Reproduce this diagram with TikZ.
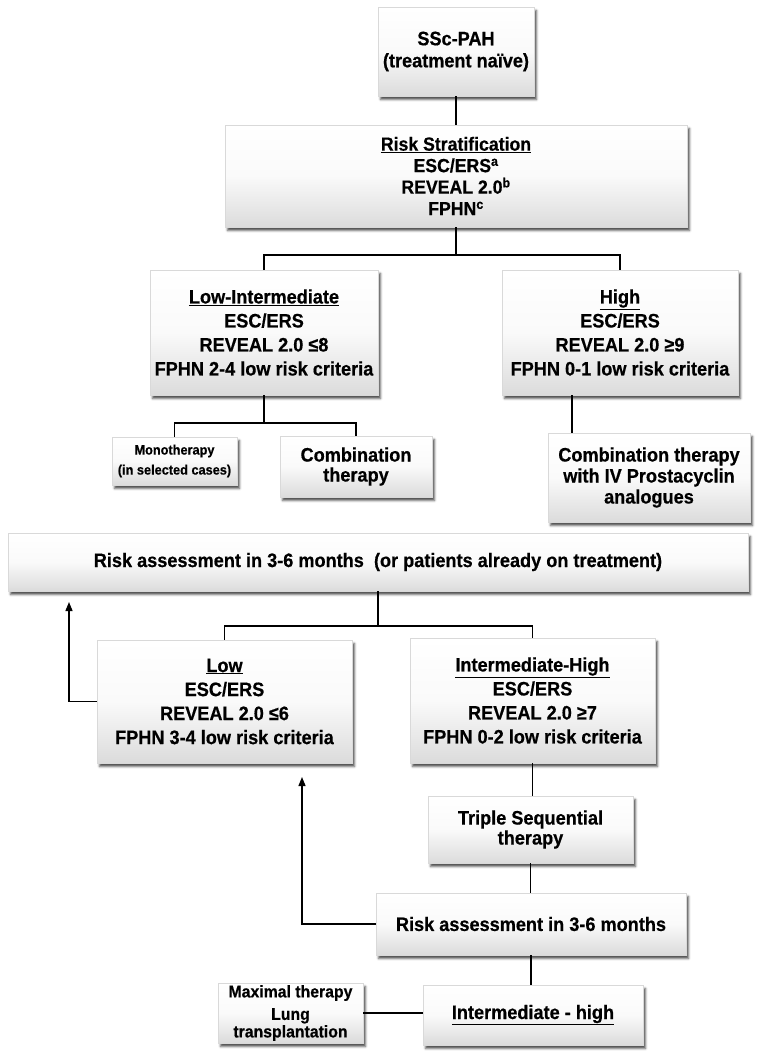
\documentclass[tikz,border=0pt]{standalone}
\usepackage{fontspec}
\setmainfont{Liberation Sans}[FakeStretch=0.93, BoldFeatures={FakeBold=0.5}]
\usetikzlibrary{shadows.blur,arrows.meta}
\begin{document}
\begin{tikzpicture}[x=1pt,y=-1pt,
  box/.style={draw=gray!30, line width=0.4pt, top color=white, bottom color=gray!28, middle color=white!96!gray,
    align=center, inner sep=0pt, font=\bfseries\fontsize{19.5}{24}\selectfont,
    blur shadow={shadow xshift=2.5pt, shadow yshift=-3.5pt, shadow blur radius=2.2pt, shadow opacity=70}},
  conn/.style={line width=1.3pt},
  arr/.style={conn, -{Triangle[length=9pt,width=7pt]}}]
\useasboundingbox (0,0) rectangle (765,1063);

\node[box, minimum width=156pt, minimum height=89pt, font=\bfseries\fontsize{19.5}{22}\selectfont] (ssc) at (456,51.5) {SSc-PAH\\(treatment naïve)};
\node[box, minimum width=462pt, minimum height=102pt, font=\bfseries\fontsize{19}{21.5}\selectfont] (strat) at (456,176) {\underline{Risk Stratification}\\ESC/ERS\textsuperscript{a}\\REVEAL 2.0\textsuperscript{b}\\FPHN\textsuperscript{c}};
\node[box, minimum width=228pt, minimum height=125pt] (lowint) at (264,332.5) {\underline{Low-Intermediate}\\ESC/ERS\\REVEAL 2.0 ≤8\\FPHN 2-4 low risk criteria};
\node[box, minimum width=236pt, minimum height=125pt] (high) at (620,332.5) {\underline{High}\\ESC/ERS\\REVEAL 2.0 ≥9\\FPHN 0-1 low risk criteria};
\node[box, minimum width=125pt, minimum height=48pt, font=\bfseries\fontsize{13.7}{20}\selectfont] (mono) at (174.5,461) {Monotherapy\\(in selected cases)};
\node[box, minimum width=152pt, minimum height=61pt, font=\bfseries\fontsize{19.5}{20}\selectfont] (comb) at (356,466.5) {Combination\\therapy};
\node[box, minimum width=202pt, minimum height=89pt, font=\bfseries\fontsize{19.5}{21}\selectfont] (combiv) at (649,477.5) {Combination therapy\\with IV Prostacyclin\\analogues};
\node[box, minimum width=740pt, minimum height=58pt] (ra1) at (378,562) {Risk assessment in 3-6 months\ \ (or patients already on treatment)};
\node[box, minimum width=255pt, minimum height=123pt] (low) at (224.5,701.5) {\underline{Low}\\ESC/ERS\\REVEAL 2.0 ≤6\\FPHN 3-4 low risk criteria};
\node[box, minimum width=245pt, minimum height=125pt] (inth) at (532.5,700.5) {\underline{Intermediate-High}\\ESC/ERS\\REVEAL 2.0 ≥7\\FPHN 0-2 low risk criteria};
\node[box, minimum width=205pt, minimum height=67pt, font=\bfseries\fontsize{19.5}{20}\selectfont] (triple) at (530.5,829.5) {Triple Sequential\\therapy};
\node[box, minimum width=310pt, minimum height=62pt] (ra2) at (531,924) {Risk assessment in 3-6 months};
\node[box, minimum width=220pt, minimum height=60pt] (ih) at (533,1015) {\underline{Intermediate - high}};
\node[box, minimum width=145pt, minimum height=60pt, font=\bfseries\fontsize{17}{17.5}\selectfont] (maxt) at (290.5,1013) {Maximal therapy\\[5pt]Lung\\transplantation};

\coordinate (j1) at (456,255);
\coordinate (j2) at (264,423);
\coordinate (j3) at (378,626);
\coordinate (hx) at (572,0);
\coordinate (a1) at (69,602);
\coordinate (a2) at (302,777);

\draw[conn] (ssc.south) -- (strat.north);
\draw[conn] (strat.south) -- (j1);
\draw[conn] (lowint.north) |- (j1) -| (high.north);
\draw[conn] (lowint.south) -- (j2);
\draw[conn] (mono.north) |- (j2) -| (comb.north);
\draw[line width=2.4pt] (hx |- high.south) -- (hx |- combiv.north);
\draw[conn] (ra1.south) -- (j3);
\draw[conn] (low.north) |- (j3) -| (inth.north);
\draw[arr] (low.west) -| (a1);
\draw[conn] (inth.south) -- (inth.south |- triple.north);
\draw[conn] (triple.south) -- (triple.south |- ra2.north);
\draw[conn] (ra2.south) -- (ra2.south |- ih.north);
\draw[arr] (ra2.west) -| (a2);
\draw[conn] (maxt.east) -- (maxt.east -| ih.west);
\end{tikzpicture}
\end{document}
